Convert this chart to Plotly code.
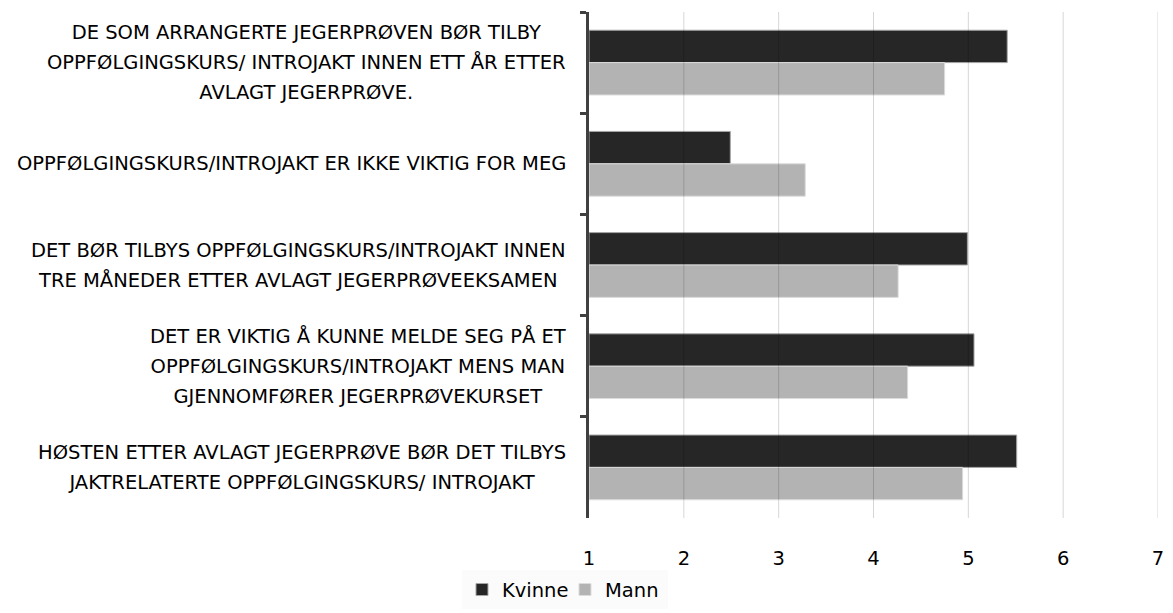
import plotly.graph_objects as go

categories = [
    "DE SOM ARRANGERTE JEGERPRØVEN BØR TILBY<br>OPPFØLGINGSKURS/ INTROJAKT INNEN ETT ÅR ETTER<br>AVLAGT JEGERPRØVE.",
    "OPPFØLGINGSKURS/INTROJAKT ER IKKE VIKTIG FOR MEG",
    "DET BØR TILBYS OPPFØLGINGSKURS/INTROJAKT INNEN<br>TRE MÅNEDER ETTER AVLAGT JEGERPRØVEEKSAMEN",
    "DET ER VIKTIG Å KUNNE MELDE SEG PÅ ET<br>OPPFØLGINGSKURS/INTROJAKT MENS MAN<br>GJENNOMFØRER JEGERPRØVEKURSET",
    "HØSTEN ETTER AVLAGT JEGERPRØVE BØR DET TILBYS<br>JAKTRELATERTE OPPFØLGINGSKURS/ INTROJAKT",
]
cat_keys = ["c1", "c2", "c3", "c4", "c5"]
kvinne = [5.41, 2.49, 4.99, 5.06, 5.51]
mann = [4.75, 3.28, 4.26, 4.36, 4.94]
tick_values = [1, 2, 3, 4, 5, 6, 7]

FONT = "DejaVu Sans"
FS = 19.5
LINE_FS = 23  # controls line spacing of multi-line labels (1.3 * 23 ~ 30px)
AXIS_MIN = tick_values[0]

fig = go.Figure()
fig.add_trace(go.Bar(
    y=cat_keys, x=[v - AXIS_MIN for v in kvinne], base=AXIS_MIN,
    orientation="h", name="Kvinne",
    marker=dict(color="#262626", line=dict(color="#a6a6a6", width=1)),
))
fig.add_trace(go.Bar(
    y=cat_keys, x=[v - AXIS_MIN for v in mann], base=AXIS_MIN,
    orientation="h", name="Mann",
    marker=dict(color="#b3b3b3", line=dict(color="#dcdcdc", width=1)),
))

for v in tick_values[1:]:
    fig.add_vline(x=v, layer="above", line=dict(color="rgba(0,0,0,0.16)", width=1))

for key, label in zip(cat_keys, categories):
    styled = "<br>".join(
        f'<span style="font-size:{FS}px">{line}</span>' for line in label.split("<br>")
    )
    fig.add_annotation(
        x=0, xref="paper", y=key, yref="y", xanchor="right", yanchor="middle",
        xshift=-21, text=styled, showarrow=False, align="center",
        font=dict(family=FONT, size=LINE_FS, color="#000000"),
    )

fig.update_layout(
    width=1165, height=605,
    margin=dict(l=581, r=15, t=4, b=95),
    paper_bgcolor="white", plot_bgcolor="white",
    barmode="group", bargap=0.36, bargroupgap=0.0,
    font=dict(family=FONT, size=FS, color="#000000"),
    showlegend=True,
    legend=dict(
        orientation="h", x=-0.2232, xanchor="left", y=-0.142, yanchor="middle",
        bgcolor="#fbfbfb", font=dict(family=FONT, size=FS, color="#000000"),
        itemwidth=30, entrywidth=58, traceorder="normal",
    ),
    xaxis=dict(
        range=[1, 7], tickvals=tick_values, showgrid=False, zeroline=False,
        showline=False, ticks="", ticklabelstandoff=26, ticklabeloverflow="allow",
        tickfont=dict(family=FONT, size=FS, color="#000000"),
    ),
    yaxis=dict(
        categoryorder="array", categoryarray=cat_keys,
        autorange="reversed", showticklabels=False,
        showline=True, linecolor="#404040", linewidth=3,
        ticks="outside", tickson="boundaries", ticklen=6, tickwidth=3,
        tickcolor="#404040", showgrid=False, zeroline=False,
    ),
)

fig.write_html("out.html")
